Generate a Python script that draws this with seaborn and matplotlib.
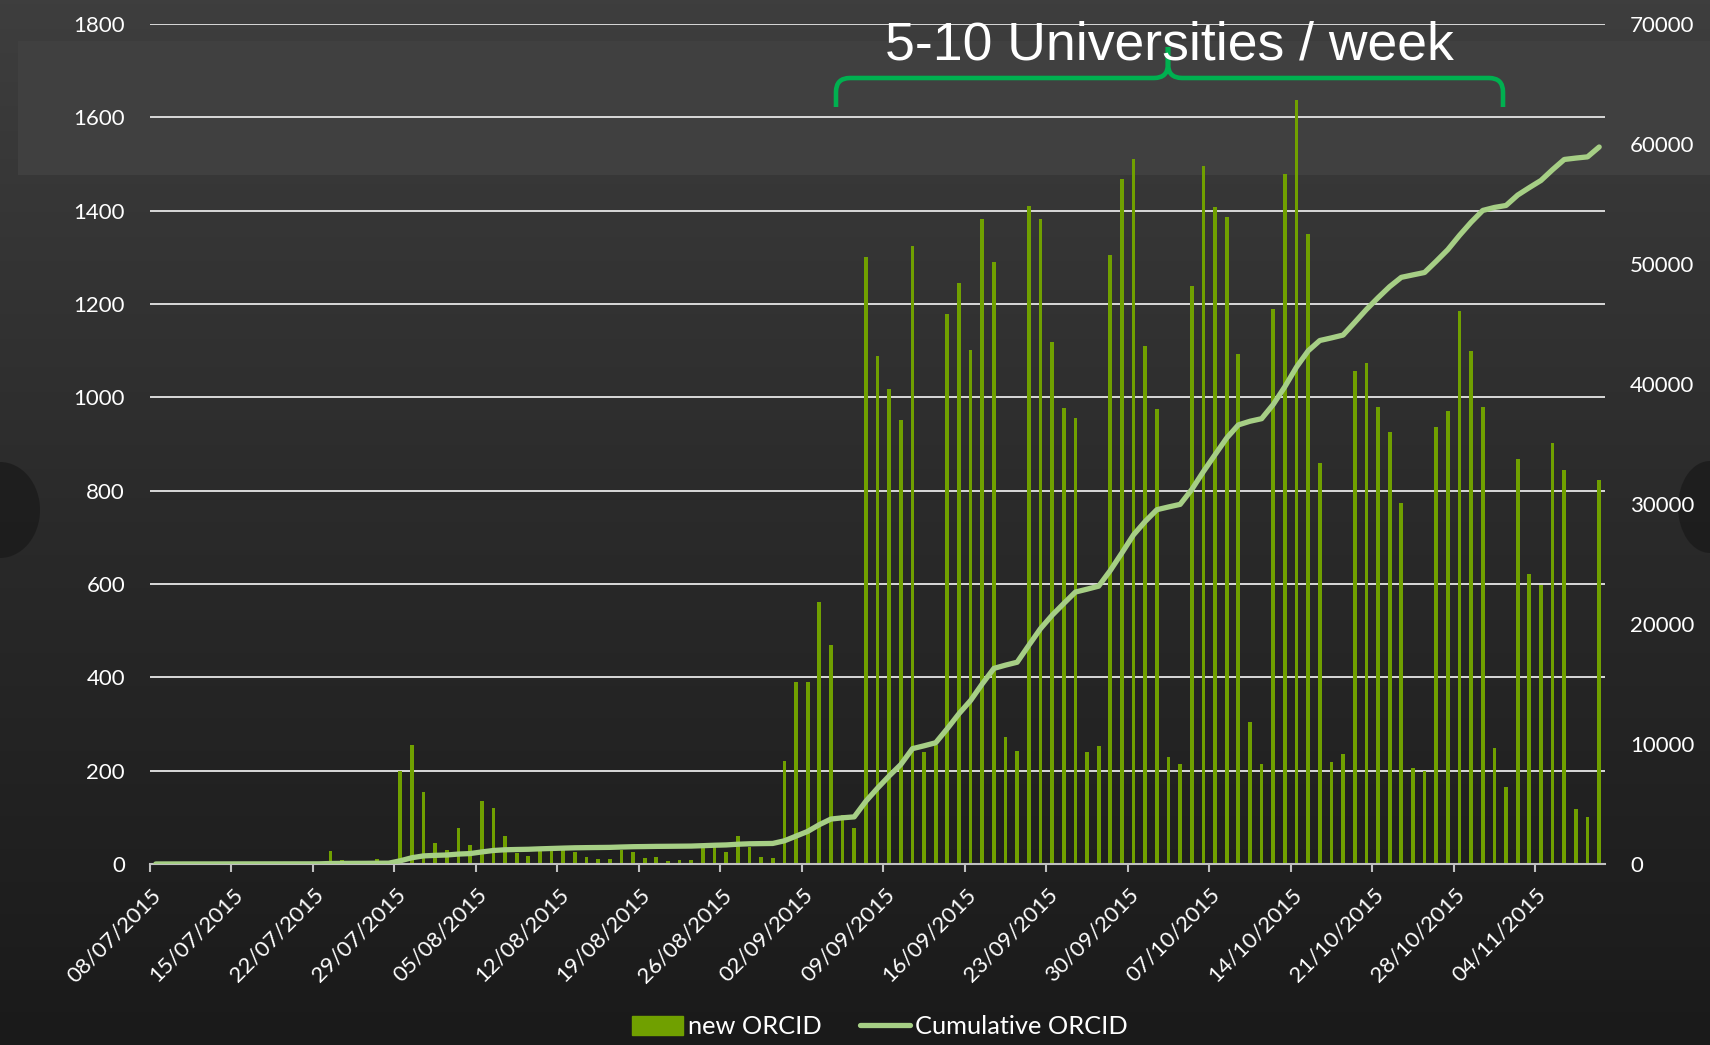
import numpy as np
import pandas as pd
import seaborn as sns
import matplotlib.pyplot as plt
from matplotlib.colors import LinearSegmentedColormap
from matplotlib.patches import Rectangle, Patch, Ellipse, PathPatch
from matplotlib.lines import Line2D
from matplotlib.path import Path
from matplotlib.transforms import ScaledTranslation

# daily new ORCID iDs, 08/07/2015 .. 09/11/2015
new_orcid = [
    3, 2, 1, 1, 0, 0, 2, 1, 1, 0, 1, 0, 1, 0, 1,
    28, 8, 2, 3, 10, 2,
    200, 255, 154, 44, 30, 78, 41, 136, 121, 60, 23, 18, 37, 30, 30, 26, 14, 11, 11, 30,
    26, 12, 14, 7, 9, 9, 34, 36, 26, 59, 37, 14, 13,
    221, 390, 391, 562, 470, 104, 77, 1301, 1089, 1018, 951, 1325, 239, 254,
    1179, 1244, 1101, 1383, 1289, 273, 242, 1411, 1383, 1119, 978, 956, 240, 252,
    1306, 1468, 1511, 1111, 974, 230, 215, 1239, 1496, 1407, 1387, 1092, 305, 215,
    1190, 1479, 1637, 1349, 859, 219, 236, 1056, 1073, 980, 926, 774,
    205, 200, 937, 971, 1184, 1100, 979, 248, 166, 867, 621, 597, 903, 844, 117, 101, 822,
]

cumulative_orcid = [
    3, 5, 6, 7, 7, 7, 9, 10, 11, 11, 12, 12, 13, 13, 14,
    42, 50, 52, 55, 65, 67,
    267, 522, 676, 720, 750, 828, 869, 1005, 1126, 1186, 1209, 1227, 1264, 1294, 1324, 1350, 1364, 1375, 1386, 1416,
    1442, 1454, 1468, 1475, 1484, 1493, 1527, 1563, 1589, 1648, 1685, 1699, 1712,
    1933, 2323, 2714, 3276, 3746, 3850, 3927, 5228, 6317, 7335, 8286, 9611, 9850, 10104,
    11283, 12527, 13628, 15011, 16300, 16573, 16815, 18226, 19609, 20728, 21706, 22662, 22902, 23154,
    24460, 25928, 27439, 28550, 29524, 29754, 29969, 31208, 32704, 34111, 35498, 36590, 36895, 37110,
    38300, 39779, 41416, 42765, 43624, 43843, 44079, 45135, 46208, 47188, 48114, 48888,
    49093, 49293, 50230, 51201, 52385, 53485, 54464, 54712, 54878, 55745, 56366, 56963, 57866, 58710, 58827, 58928, 59750,
]

week_labels = [
    '08/07/2015', '15/07/2015', '22/07/2015', '29/07/2015', '05/08/2015', '12/08/2015',
    '19/08/2015', '26/08/2015', '02/09/2015', '09/09/2015', '16/09/2015', '23/09/2015',
    '30/09/2015', '07/10/2015', '14/10/2015', '21/10/2015', '28/10/2015', '04/11/2015',
]

W, H = 1710, 1045
BAR = '#70a000'
LINE = '#a6cf85'


def fx(x):
    return x / W


def fy(y):
    return 1 - y / H


df = pd.DataFrame({'day': np.arange(len(new_orcid)), 'new': new_orcid, 'cum': cumulative_orcid})

plt.rcParams['font.family'] = ['Lato', 'DejaVu Sans']

fig = plt.figure(figsize=(W / 100, H / 100), dpi=100)

# dark slide background
bg = fig.add_axes([0, 0, 1, 1], zorder=-10)
grad = np.linspace(0, 1, 256).reshape(-1, 1)
cmap = LinearSegmentedColormap.from_list('bg', ['#3e3e3e', '#2a2a2a', '#1a1a1a'])
bg.imshow(grad, aspect='auto', cmap=cmap, extent=[0, 1, 0, 1], origin='upper')
bg.add_patch(Rectangle((fx(18), fy(175)), 1 - fx(18), fy(41) - fy(175), color='#404040', lw=0))
bg.add_patch(Ellipse((0, fy(510)), 2 * 40 / W, 2 * 48 / H, color='#1b1b1b', alpha=0.8, lw=0))
bg.add_patch(Ellipse((1, fy(507)), 2 * 32 / W, 2 * 46 / H, color='#1b1b1b', alpha=0.8, lw=0))
bg.set_xlim(0, 1)
bg.set_ylim(0, 1)
bg.axis('off')

ax = fig.add_axes([fx(150), fy(864), fx(1605) - fx(150), fy(24) - fy(864)], zorder=1)
ax.patch.set_visible(False)

sns.barplot(data=df, x='day', y='new', native_scale=True, width=0.32, color=BAR,
            saturation=1, errorbar=None, linewidth=0, ax=ax)

ax.set_xlim(-0.5, len(new_orcid) - 0.5)
ax.set_ylim(0, 1800)
ax.set_yticks(range(0, 1801, 200))
ax.set_xticks(np.arange(-0.5, len(new_orcid) - 1, 7))
ax.set_xticklabels(week_labels, rotation=45, ha='right', va='center', rotation_mode='anchor')
ax.grid(axis='y', color='#d9d9d9', lw=1.4)
ax.set_axisbelow(True)
for s in ['top', 'left', 'right']:
    ax.spines[s].set_visible(False)
ax.spines['bottom'].set_color('#c0c0c0')
ax.spines['bottom'].set_linewidth(1.5)
ax.tick_params(axis='y', length=0, pad=18, labelcolor='white', labelsize=16)
ax.tick_params(axis='x', length=6, width=1.5, color='#c0c0c0', labelcolor='white', labelsize=16, pad=14)
shift = ScaledTranslation(8 / 100, 0, fig.dpi_scale_trans)
for lab in ax.get_xticklabels():
    lab.set_transform(lab.get_transform() + shift)
ax.set_xlabel('')
ax.set_ylabel('')

ax2 = ax.twinx()
sns.lineplot(data=df, x='day', y='cum', ax=ax2, color=LINE, lw=3.8, solid_capstyle='round')
ax2.set_xlim(-0.5, len(new_orcid) - 0.5)
ax2.set_ylim(0, 70000)
ax2.set_yticks(range(0, 70001, 10000))
ax2.tick_params(axis='y', length=0, pad=18, labelcolor='white', labelsize=16)
for s in ax2.spines.values():
    s.set_visible(False)
ax2.set_ylabel('')
ax2.set_xlabel('')

handles = [
    Patch(color=BAR, label='new ORCID'),
    Line2D([], [], color=LINE, lw=3.8, solid_capstyle='round', label='Cumulative ORCID'),
]
fig.legend(handles=handles, loc='center', bbox_to_anchor=(fx(880), fy(1027)), ncol=2,
           frameon=False, fontsize=18.3, labelcolor='white', handlelength=2.0,
           handleheight=0.73, handletextpad=0.2, columnspacing=1.5)

# annotation: title and green brace
fig.text(fx(1169), fy(60), '5-10 Universities / week', ha='center', va='baseline',
         fontsize=38.5, color='white', family=['Liberation Sans', 'DejaVu Sans'])

M, L, C = Path.MOVETO, Path.LINETO, Path.CURVE3
pts = [(836, 107), (836, 92), (836, 78), (850, 78), (1154, 78), (1168, 78), (1168, 64), (1168, 47),
       (1168, 47), (1168, 64), (1168, 78), (1182, 78), (1489, 78), (1503, 78), (1503, 92), (1503, 107)]
codes = [M, L, C, C, L, C, C, L, M, L, C, C, L, C, C, L]
brace = Path([(fx(x), fy(y)) for x, y in pts], codes)
fig.add_artist(PathPatch(brace, transform=fig.transFigure, fill=False, edgecolor='#00b050',
                         lw=3.3, joinstyle='round', capstyle='butt'))

fig.savefig('out.png', dpi=100)
